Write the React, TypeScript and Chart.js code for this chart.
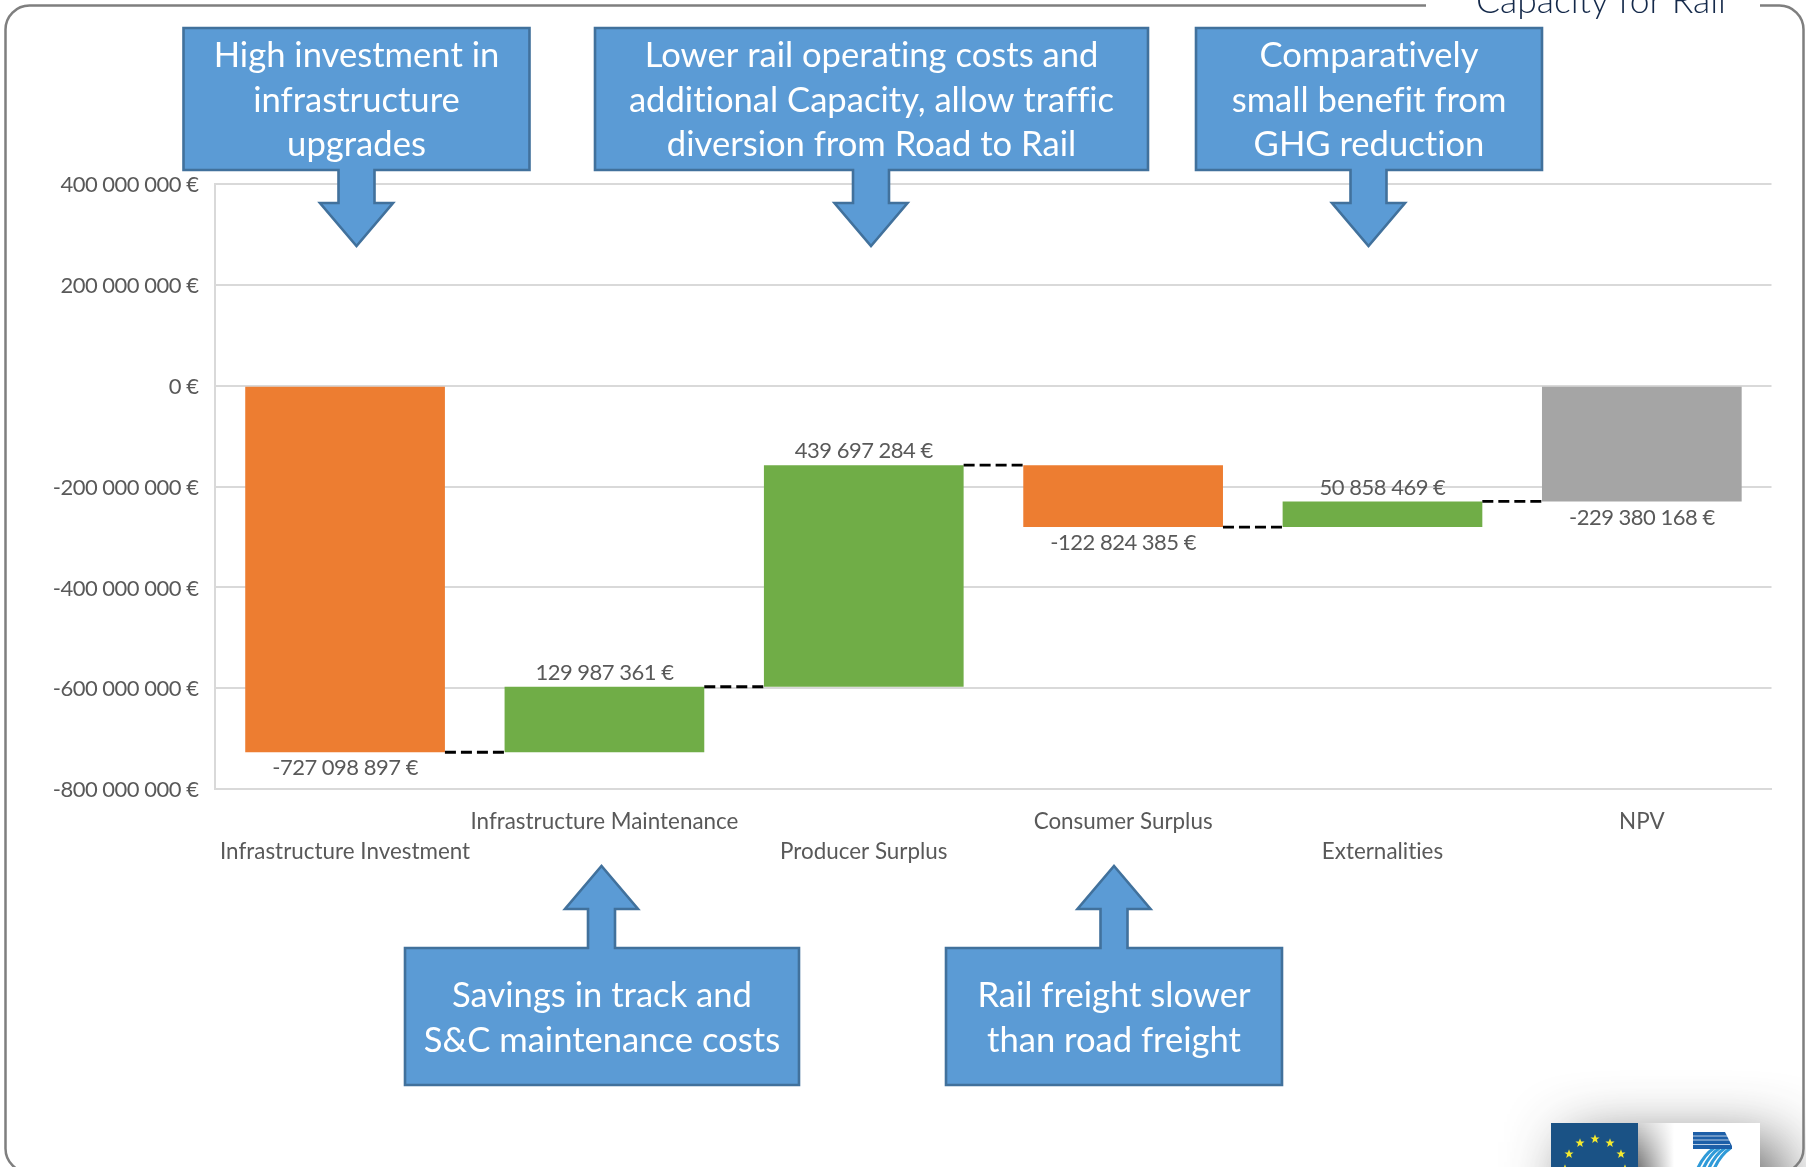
import React, { useEffect, useRef } from "react";
import { Chart, registerables } from "chart.js";

Chart.register(...registerables);

const categories = [
  "Infrastructure Investment",
  "Infrastructure Maintenance",
  "Producer Surplus",
  "Consumer Surplus",
  "Externalities",
  "NPV",
];
// Effect of each item on the net present value, in euros.
const effects = [-727098897, 129987361, 439697284, -122824385, 50858469];
const npv = -229380168;

const yTickValues = [400000000, 200000000, 0, -200000000, -400000000, -600000000, -800000000];

const ORANGE = "#ed7d31";
const GREEN = "#70ad47";
const GREY = "#a5a5a5";
const barColors = [ORANGE, GREEN, GREEN, ORANGE, GREEN, GREY];

const topNotes = [
  { lines: ["High investment in", "infrastructure", "upgrades"], box: [183.5, 529.5], arrow: 356.5 },
  { lines: ["Lower rail operating costs and", "additional Capacity, allow traffic", "diversion from Road to Rail"], box: [595, 1148], arrow: 871 },
  { lines: ["Comparatively", "small benefit from", "GHG reduction"], box: [1196, 1542], arrow: 1368.5 },
];
const bottomNotes = [
  { lines: ["Savings in track and", "S&C maintenance costs"], box: [405, 799], arrow: 601.5 },
  { lines: ["Rail freight slower", "than road freight"], box: [946, 1282], arrow: 1114 },
];
const pageTitle = "Capacity for Rail";

const FONT = "Lato, Carlito, sans-serif";

const euro = (v: number) =>
  `${v < 0 ? "-" : ""}${Math.abs(v).toString().replace(/\B(?=(\d{3})+(?!\d))/g, " ")} €`;

// Running total gives the floating span of every waterfall bar; NPV hangs from zero.
function waterfallSpans(): [number, number][] {
  let total = 0;
  const spans: [number, number][] = effects.map((e) => {
    const s: [number, number] = [total, total + e];
    total += e;
    return s;
  });
  spans.push([0, npv]);
  return spans;
}

const waterfallDecor = {
  id: "waterfallDecor",
  afterDatasetsDraw(chart: any) {
    const { ctx, scales } = chart;
    const bars = chart.getDatasetMeta(0).data;
    const spans = waterfallSpans();
    ctx.save();
    // Connector from the end of one bar to the start of the next.
    ctx.strokeStyle = "#000000";
    ctx.lineWidth = 2.8;
    ctx.setLineDash([11, 5]);
    for (let i = 0; i < bars.length - 1; i++) {
      const y = scales.y.getPixelForValue(spans[i][1]);
      ctx.beginPath();
      ctx.moveTo(bars[i].x + bars[i].width / 2, y);
      ctx.lineTo(bars[i + 1].x - bars[i + 1].width / 2, y);
      ctx.stroke();
    }
    ctx.setLineDash([]);
    // Value labels above gains, below losses.
    ctx.fillStyle = "#595959";
    ctx.font = `22px ${FONT}`;
    (ctx as any).letterSpacing = "-0.5px";
    ctx.textAlign = "center";
    const values = [...effects, npv];
    bars.forEach((bar: any, i: number) => {
      const v = values[i];
      const high = scales.y.getPixelForValue(Math.max(spans[i][0], spans[i][1]));
      const low = scales.y.getPixelForValue(Math.min(spans[i][0], spans[i][1]));
      if (v > 0) {
        ctx.textBaseline = "bottom";
        ctx.fillText(euro(v), bar.x, high - 3);
      } else {
        ctx.textBaseline = "top";
        ctx.fillText(euro(v), bar.x, low + 5);
      }
    });
    ctx.restore();
  },
};

function calloutPath(ctx: CanvasRenderingContext2D, box: number[], top: number, bottom: number, cx: number, stem: number, neck: number, tip: number) {
  const wing = 36.5;
  const down = tip > bottom;
  ctx.beginPath();
  ctx.moveTo(box[0], top);
  if (!down) {
    ctx.lineTo(cx - stem, top);
    ctx.lineTo(cx - stem, neck);
    ctx.lineTo(cx - wing, neck);
    ctx.lineTo(cx, tip);
    ctx.lineTo(cx + wing, neck);
    ctx.lineTo(cx + stem, neck);
    ctx.lineTo(cx + stem, top);
  }
  ctx.lineTo(box[1], top);
  ctx.lineTo(box[1], bottom);
  if (down) {
    ctx.lineTo(cx + stem, bottom);
    ctx.lineTo(cx + stem, neck);
    ctx.lineTo(cx + wing, neck);
    ctx.lineTo(cx, tip);
    ctx.lineTo(cx - wing, neck);
    ctx.lineTo(cx - stem, neck);
    ctx.lineTo(cx - stem, bottom);
  }
  ctx.lineTo(box[0], bottom);
  ctx.closePath();
}

function drawFrame(ctx: CanvasRenderingContext2D) {
  ctx.strokeStyle = "#7f7f7f";
  ctx.lineWidth = 2.5;
  ctx.beginPath();
  ctx.roundRect(5.5, 5.5, 1798, 1167, 24);
  ctx.stroke();
  ctx.fillStyle = "#ffffff";
  ctx.fillRect(1426, 0, 334, 12);
  ctx.fillStyle = "#14294a";
  ctx.font = `300 35.5px ${FONT}`;
  ctx.textAlign = "center";
  ctx.textBaseline = "alphabetic";
  ctx.fillText(pageTitle, 1601, 13);
}

function drawLogos(ctx: CanvasRenderingContext2D) {
  // Soft halo behind the two emblems, heaviest at the foot of the page.
  // The casting rectangle sits off the canvas so only its shadow lands here.
  ctx.save();
  ctx.shadowColor = "rgba(60,60,60,0.85)";
  ctx.shadowBlur = 60;
  ctx.shadowOffsetX = 3000;
  ctx.fillStyle = "#000000";
  ctx.fillRect(1570 - 3000, 1142, 212, 90);
  ctx.restore();

  // European flag.
  ctx.fillStyle = "#1a5285";
  ctx.fillRect(1551, 1123, 87, 44);
  ctx.fillStyle = "#f4e92f";
  for (const deg of [-90, -60, -30, 0, 30, 60, 90]) {
    const a = (deg * Math.PI) / 180;
    const sx = 1595 + 30 * Math.sin(a);
    const sy = 1169 - 30 * Math.cos(a);
    ctx.beginPath();
    for (let k = 0; k < 10; k++) {
      const r = k % 2 === 0 ? 4.8 : 2;
      const t = (k * Math.PI) / 5 - Math.PI / 2;
      ctx.lineTo(sx + r * Math.cos(t), sy + r * Math.sin(t));
    }
    ctx.closePath();
    ctx.fill();
  }

  // Seventh Framework Programme emblem on its white plate, fading out towards the flag.
  const fade = ctx.createLinearGradient(1638, 0, 1674, 0);
  fade.addColorStop(0, "rgba(255,255,255,0)");
  fade.addColorStop(1, "#ffffff");
  ctx.fillStyle = fade;
  ctx.fillRect(1638, 1123, 36, 44);
  ctx.fillStyle = "#ffffff";
  ctx.fillRect(1674, 1123, 86, 44);

  ctx.strokeStyle = "#2f9ad8";
  ctx.lineWidth = 3.2;
  for (const o of [0, 5.5, 11, 16.5]) {
    ctx.beginPath();
    ctx.moveTo(1714 + o, 1148);
    ctx.quadraticCurveTo(1704 + o, 1155, 1698 + o, 1168);
    ctx.stroke();
  }
  ctx.fillStyle = "#1d5fa8";
  ctx.beginPath();
  ctx.moveTo(1693, 1132);
  ctx.lineTo(1725, 1132);
  ctx.lineTo(1732, 1146);
  ctx.lineTo(1732, 1149);
  ctx.lineTo(1693, 1149);
  ctx.closePath();
  ctx.fill();
  ctx.strokeStyle = "rgba(255,255,255,0.7)";
  ctx.lineWidth = 1;
  for (const y of [1136, 1140, 1144.5]) {
    ctx.beginPath();
    ctx.moveTo(1693, y);
    ctx.lineTo(1730, y);
    ctx.stroke();
  }
}

// Runs a scale's label drawing with extra canvas text settings applied.
function tuneLabels(scale: any, spacing: string, shiftY: number) {
  if (scale.labelsTuned) return;
  scale.labelsTuned = true;
  const draw = scale.drawLabels.bind(scale);
  scale.drawLabels = (area: any) => {
    const { ctx } = scale;
    ctx.save();
    ctx.letterSpacing = spacing;
    ctx.translate(0, shiftY);
    draw(area);
    ctx.restore();
  };
}

const pageDecor = {
  id: "pageDecor",
  beforeDraw(chart: any) {
    const { ctx } = chart;
    tuneLabels(chart.scales.y, "-0.5px", 1);
    tuneLabels(chart.scales.x, "0.01px", 0);
    ctx.save();
    ctx.fillStyle = "#ffffff";
    ctx.fillRect(0, 0, chart.width, chart.height);
    drawLogos(ctx);
    drawFrame(ctx);
    ctx.restore();
  },
  afterDraw(chart: any) {
    const { ctx } = chart;
    ctx.save();
    ctx.lineJoin = "miter";
    const paint = (note: any, top: number, bottom: number, stem: number, neck: number, tip: number, firstLine: number) => {
      calloutPath(ctx, note.box, top, bottom, note.arrow, stem, neck, tip);
      ctx.fillStyle = "#5b9bd5";
      ctx.fill();
      ctx.strokeStyle = "#41719c";
      ctx.lineWidth = 2.6;
      ctx.stroke();
      ctx.fillStyle = "#ffffff";
      ctx.font = `34.6px ${FONT}`;
      (ctx as any).letterSpacing = "0.01px";
      ctx.textAlign = "center";
      ctx.textBaseline = "middle";
      note.lines.forEach((line: string, i: number) => {
        ctx.fillText(line, (note.box[0] + note.box[1]) / 2, firstLine + i * 44.4);
      });
      (ctx as any).letterSpacing = "0px";
    };
    topNotes.forEach((n) => paint(n, 28, 170, 18, 203, 246, 56));
    bottomNotes.forEach((n) => paint(n, 948, 1085, 13.5, 909, 866, 996));
    ctx.restore();
  },
};

export default function App() {
  const ref = useRef<HTMLCanvasElement | null>(null);
  useEffect(() => {
    if (!ref.current) return;
    const chart = new Chart(ref.current, {
      type: "bar",
      data: {
        labels: categories,
        datasets: [
          {
            data: waterfallSpans() as any,
            backgroundColor: barColors,
            borderWidth: 0,
            categoryPercentage: 0.77,
            barPercentage: 1,
          },
        ],
      },
      options: {
        responsive: false,
        animation: false,
        events: [],
        layout: { padding: { top: 184.3, right: 34.5, bottom: 0, left: 0 } },
        plugins: { legend: { display: false }, tooltip: { enabled: false }, title: { display: false } },
        scales: {
          x: {
            afterFit: (s: any) => { s.height = 1167 - 789; },
            grid: { display: false, drawTicks: false },
            border: { display: true, color: "#d9d9d9", width: 2 },
            ticks: {
              autoSkip: false,
              maxRotation: 0,
              minRotation: 0,
              padding: 18,
              color: "#595959",
              font: { family: FONT, size: 22.4, lineHeight: 1.34 },
              // Staggered rows: odd categories sit on the lower line.
              callback: (_v: any, i: number) => (i % 2 === 0 ? ["", categories[i]] : [categories[i], ""]),
            },
          },
          y: {
            min: -800000000,
            max: 400000000,
            afterFit: (s: any) => { s.width = 215.4; },
            afterBuildTicks: (s: any) => { s.ticks = yTickValues.map((value) => ({ value })); },
            grid: { color: "#d9d9d9", lineWidth: 2, drawTicks: false },
            border: { display: true, color: "#d9d9d9", width: 2 },
            ticks: {
              padding: 17,
              color: "#595959",
              font: { family: FONT, size: 22 },
              callback: (v: any) => euro(Number(v)),
            },
          },
        },
      },
      plugins: [pageDecor, waterfallDecor],
    } as any);
    return () => chart.destroy();
  }, []);
  return (
    <div style={{ position: "fixed", left: 0, top: 0 }}>
      <canvas ref={ref} width={1806} height={1167} style={{ display: "block" }} />
    </div>
  );
}
